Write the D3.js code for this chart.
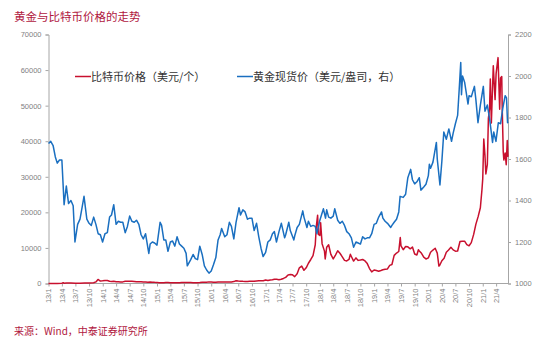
<!DOCTYPE html>
<html><head><meta charset="utf-8">
<script src="https://cdn.jsdelivr.net/npm/d3@7"></script>
<style>
body{margin:0;background:#fff;}
svg{display:block;}
</style>
</head><body>
<svg id="chart" width="550" height="356"></svg>
<script>
// ---------- DATA ----------
const titleText = "黄金与比特币价格的走势";
const sourceText = "来源：Wind，中泰证券研究所";
const legendLabels = ["比特币价格（美元/个）", "黄金现货价（美元/盎司，右）"];
const leftTicks = [0, 10000, 20000, 30000, 40000, 50000, 60000, 70000];
const rightTicks = [1000, 1200, 1400, 1600, 1800, 2000, 2200];
const xTickDates = ["2013-01-01","2013-04-01","2013-07-01","2013-10-01","2014-01-01","2014-04-01","2014-07-01","2014-10-01",
  "2015-01-01","2015-04-01","2015-07-01","2015-10-01","2016-01-01","2016-04-01","2016-07-01","2016-10-01",
  "2017-01-01","2017-04-01","2017-07-01","2017-10-01","2018-01-01","2018-04-01","2018-07-01","2018-10-01",
  "2019-01-01","2019-04-01","2019-07-01","2019-10-01","2020-01-01","2020-04-01","2020-07-01","2020-10-01",
  "2021-01-01","2021-04-01"];
const xDomain = ["2013-01-01", "2021-06-20"];

// Gold spot price, USD/oz (right axis)
const goldSeries = [
 ["2013-01-01",1675],["2013-01-16",1685],["2013-02-01",1665],["2013-02-16",1610],["2013-03-01",1580],["2013-03-16",1595],
 ["2013-04-01",1595],["2013-04-16",1380],["2013-05-01",1470],["2013-05-16",1385],["2013-06-01",1400],["2013-06-16",1375],
 ["2013-06-28",1200],["2013-07-16",1285],["2013-08-01",1310],["2013-08-16",1370],["2013-08-28",1420],["2013-09-16",1310],
 ["2013-10-01",1290],["2013-10-16",1280],["2013-11-01",1320],["2013-11-16",1285],["2013-12-01",1240],["2013-12-16",1235],
 ["2013-12-31",1200],["2014-01-16",1240],["2014-02-01",1245],["2014-02-16",1320],["2014-03-01",1330],["2014-03-16",1380],
 ["2014-04-01",1285],["2014-04-16",1300],["2014-05-01",1295],["2014-05-16",1295],["2014-06-01",1245],["2014-06-16",1275],
 ["2014-07-01",1325],["2014-07-16",1300],["2014-08-01",1295],["2014-08-16",1305],["2014-09-01",1285],["2014-09-16",1235],
 ["2014-10-01",1215],["2014-10-16",1240],["2014-11-01",1170],["2014-11-07",1145],["2014-11-16",1190],["2014-12-01",1200],
 ["2014-12-16",1195],["2015-01-01",1185],["2015-01-22",1295],["2015-02-01",1280],["2015-02-16",1210],["2015-03-01",1210],
 ["2015-03-16",1155],["2015-04-01",1200],["2015-04-16",1205],["2015-05-01",1180],["2015-05-16",1225],["2015-06-01",1190],
 ["2015-06-16",1180],["2015-07-01",1170],["2015-07-16",1145],["2015-07-24",1085],["2015-08-16",1115],["2015-09-01",1140],
 ["2015-09-16",1120],["2015-10-01",1115],["2015-10-16",1180],["2015-11-01",1140],["2015-11-16",1085],["2015-12-01",1065],
 ["2015-12-17",1050],["2016-01-01",1060],["2016-01-16",1090],["2016-02-01",1125],["2016-02-16",1210],["2016-03-01",1235],
 ["2016-03-11",1265],["2016-04-01",1225],["2016-04-16",1235],["2016-05-02",1295],["2016-05-16",1275],["2016-06-01",1215],
 ["2016-06-16",1295],["2016-07-06",1365],["2016-07-16",1330],["2016-08-01",1355],["2016-08-16",1345],["2016-09-01",1310],
 ["2016-09-16",1315],["2016-10-01",1315],["2016-10-16",1255],["2016-11-01",1290],["2016-11-16",1225],["2016-12-01",1170],
 ["2016-12-15",1130],["2017-01-01",1150],["2017-01-16",1200],["2017-02-01",1210],["2017-02-16",1240],["2017-03-01",1250],
 ["2017-03-15",1200],["2017-04-01",1250],["2017-04-17",1290],["2017-05-09",1220],["2017-05-16",1235],["2017-06-06",1295],
 ["2017-06-16",1255],["2017-07-10",1210],["2017-07-16",1230],["2017-08-01",1270],["2017-08-16",1285],["2017-09-08",1350],
 ["2017-09-16",1320],["2017-10-06",1270],["2017-10-16",1300],["2017-11-01",1275],["2017-11-16",1280],["2017-12-01",1275],
 ["2017-12-12",1240],["2018-01-01",1305],["2018-01-25",1360],["2018-02-08",1315],["2018-02-16",1355],["2018-03-01",1320],
 ["2018-03-16",1315],["2018-04-01",1325],["2018-04-11",1360],["2018-05-01",1305],["2018-05-16",1290],["2018-06-01",1300],
 ["2018-06-16",1280],["2018-07-01",1250],["2018-07-16",1240],["2018-08-01",1220],["2018-08-16",1175],["2018-09-01",1200],
 ["2018-09-16",1195],["2018-10-01",1190],["2018-10-16",1225],["2018-11-01",1215],["2018-11-16",1220],["2018-12-01",1220],
 ["2018-12-16",1240],["2019-01-01",1285],["2019-01-16",1290],["2019-02-01",1320],["2019-02-20",1345],["2019-03-01",1315],
 ["2019-03-16",1300],["2019-04-01",1290],["2019-04-23",1270],["2019-05-01",1280],["2019-05-16",1295],["2019-06-01",1310],
 ["2019-06-16",1345],["2019-06-25",1420],["2019-07-16",1415],["2019-08-01",1430],["2019-08-16",1510],["2019-09-04",1550],
 ["2019-09-16",1500],["2019-10-01",1480],["2019-10-16",1490],["2019-11-01",1510],["2019-11-12",1450],["2019-12-01",1465],
 ["2019-12-16",1478],["2020-01-01",1520],["2020-01-08",1575],["2020-01-16",1555],["2020-02-01",1585],["2020-02-24",1680],
 ["2020-03-01",1600],["2020-03-19",1475],["2020-04-01",1590],["2020-04-14",1730],["2020-05-01",1695],["2020-05-18",1745],
 ["2020-06-05",1685],["2020-06-16",1725],["2020-07-01",1770],["2020-07-16",1810],["2020-07-27",1940],["2020-08-06",2065],
 ["2020-08-11",1910],["2020-08-18",2000],["2020-09-01",1970],["2020-09-24",1865],["2020-10-01",1905],["2020-10-16",1900],
 ["2020-11-06",1950],["2020-11-16",1885],["2020-11-30",1775],["2020-12-16",1860],["2021-01-05",1950],["2021-01-16",1830],
 ["2021-02-01",1860],["2021-02-16",1795],["2021-03-08",1680],["2021-03-16",1730],["2021-03-31",1685],["2021-04-16",1775],
 ["2021-05-01",1770],["2021-05-16",1845],["2021-06-01",1905],["2021-06-10",1895],["2021-06-17",1775],["2021-06-20",1780]
];

// Bitcoin price, USD (left axis)
const btcSeries = [
 ["2013-01-01",13],["2013-02-01",20],["2013-03-01",34],["2013-04-01",100],["2013-04-10",230],["2013-04-16",80],
 ["2013-05-01",120],["2013-06-01",125],["2013-07-01",90],["2013-08-01",105],["2013-09-01",140],["2013-10-01",130],
 ["2013-11-01",210],["2013-11-16",450],["2013-11-30",1150],["2013-12-16",700],["2013-12-31",750],["2014-01-16",850],
 ["2014-02-01",830],["2014-02-16",620],["2014-03-01",560],["2014-03-16",630],["2014-04-01",480],["2014-04-16",520],
 ["2014-05-01",450],["2014-05-16",450],["2014-06-01",630],["2014-06-16",600],["2014-07-01",640],["2014-07-16",620],
 ["2014-08-01",590],["2014-08-16",500],["2014-09-01",480],["2014-09-16",460],["2014-10-01",390],["2014-10-16",390],
 ["2014-11-01",325],["2014-11-16",390],["2014-12-01",380],["2014-12-16",330],["2015-01-01",315],["2015-01-16",210],
 ["2015-02-01",225],["2015-02-16",235],["2015-03-01",260],["2015-03-16",290],["2015-04-01",245],["2015-04-16",225],
 ["2015-05-01",235],["2015-05-16",237],["2015-06-01",222],["2015-06-16",250],["2015-07-01",258],["2015-07-16",280],
 ["2015-08-01",280],["2015-08-16",258],["2015-09-01",228],["2015-09-16",230],["2015-10-01",237],["2015-10-16",262],
 ["2015-11-01",325],["2015-11-16",335],["2015-12-01",360],["2015-12-16",455],["2016-01-01",430],["2016-01-16",385],
 ["2016-02-01",370],["2016-02-16",405],["2016-03-01",435],["2016-03-16",415],["2016-04-01",416],["2016-04-16",430],
 ["2016-05-01",450],["2016-05-16",455],["2016-06-01",535],["2016-06-16",765],["2016-07-01",675],["2016-07-16",665],
 ["2016-08-01",605],["2016-08-16",580],["2016-09-01",575],["2016-09-16",607],["2016-10-01",615],["2016-10-16",640],
 ["2016-11-01",730],["2016-11-16",745],["2016-12-01",755],["2016-12-16",785],["2017-01-01",998],["2017-01-16",830],
 ["2017-02-01",985],["2017-02-16",1035],["2017-03-01",1190],["2017-03-16",1170],["2017-04-01",1080],["2017-04-16",1180],
 ["2017-05-01",1420],["2017-05-16",1730],["2017-06-01",2400],["2017-06-16",2500],["2017-07-01",2430],["2017-07-16",1930],
 ["2017-08-01",2720],["2017-08-16",4400],["2017-09-01",4890],["2017-09-16",3700],["2017-10-01",4400],["2017-10-16",5700],
 ["2017-11-01",6750],["2017-11-16",7850],["2017-12-01",10900],["2017-12-08",16000],["2017-12-17",19200],["2017-12-22",13800],
 ["2018-01-01",13500],["2018-01-06",17100],["2018-01-16",11200],["2018-02-01",9100],["2018-02-06",6900],["2018-02-16",10200],
 ["2018-03-01",10900],["2018-03-16",8200],["2018-04-01",6900],["2018-04-16",8000],["2018-05-01",9200],["2018-05-16",8500],
 ["2018-06-01",7500],["2018-06-16",6500],["2018-07-01",6350],["2018-07-16",6750],["2018-07-25",8200],["2018-08-01",7600],
 ["2018-08-16",6300],["2018-09-01",7200],["2018-09-16",6500],["2018-10-01",6600],["2018-10-16",6750],["2018-11-01",6350],
 ["2018-11-16",5600],["2018-12-01",4200],["2018-12-16",3250],["2019-01-01",3800],["2019-01-16",3650],["2019-02-01",3450],
 ["2019-02-16",3650],["2019-03-01",3850],["2019-03-16",4000],["2019-04-01",4100],["2019-04-16",5100],["2019-05-01",5350],
 ["2019-05-16",7900],["2019-06-01",8550],["2019-06-16",9000],["2019-06-26",12900],["2019-07-01",10600],["2019-07-16",9500],
 ["2019-08-01",10400],["2019-08-16",10300],["2019-09-01",9750],["2019-09-16",10250],["2019-10-01",8300],["2019-10-16",8000],
 ["2019-10-26",9500],["2019-11-01",9150],["2019-11-16",8500],["2019-12-01",7400],["2019-12-16",6900],["2020-01-01",7200],
 ["2020-01-16",8800],["2020-02-01",9400],["2020-02-16",9900],["2020-03-01",8550],["2020-03-12",4900],["2020-03-16",5000],
 ["2020-04-01",6400],["2020-04-16",7100],["2020-05-01",8800],["2020-05-16",9400],["2020-06-01",10200],["2020-06-16",9450],
 ["2020-07-01",9100],["2020-07-16",9150],["2020-08-01",11800],["2020-08-16",11900],["2020-09-01",11900],["2020-09-16",10950],
 ["2020-10-01",10600],["2020-10-16",11500],["2020-11-01",13800],["2020-11-16",16700],["2020-12-01",18800],["2020-12-16",21300],
 ["2020-12-27",26500],["2021-01-01",29400],["2021-01-08",40600],["2021-01-16",36000],["2021-01-22",30800],["2021-02-01",33500],
 ["2021-02-08",46400],["2021-02-16",49200],["2021-02-21",57500],["2021-02-28",45100],["2021-03-13",61200],["2021-03-25",51700],
 ["2021-04-01",59000],["2021-04-14",63500],["2021-04-25",49000],["2021-05-01",57800],["2021-05-09",58200],["2021-05-12",49500],
 ["2021-05-19",37000],["2021-05-23",34700],["2021-06-01",36700],["2021-06-08",33400],["2021-06-15",40200],["2021-06-20",35600]
];

// ---------- DRAW ----------
const parse = d3.timeParse("%Y-%m-%d");
const svg = d3.select("#chart");
const latin = "'Liberation Sans', Arial, sans-serif";
const cjk = "'Noto Sans CJK SC', 'Liberation Sans', sans-serif";
const axisColor = "#a6a6a6";
const tickTextColor = "#7f7f7f";
const red = "#c8102e", blue = "#1a6fc0";

const plot = {left: 48.5, right: 508, top: 34.5, bottom: 283.5};

const x = d3.scaleTime().domain(xDomain.map(parse)).range([plot.left, plot.right]);
const yL = d3.scaleLinear().domain([0, 70000]).range([plot.bottom, plot.top]);
const yR = d3.scaleLinear().domain([1000, 2200]).range([plot.bottom, plot.top]);

// Title
svg.append("text").attr("x", 14).attr("y", 21).text(titleText)
  .attr("font-family", cjk).attr("font-size", 11.5).attr("fill", "#b0173e");

// Left axis
const gL = svg.append("g").attr("transform", `translate(${plot.left},0)`)
  .call(d3.axisLeft(yL).tickValues(leftTicks).tickSize(3).tickPadding(4).tickFormat(d3.format("d")));
// Right axis
const gR = svg.append("g").attr("transform", `translate(${plot.right},0)`)
  .call(d3.axisRight(yR).tickValues(rightTicks).tickSize(3).tickPadding(4).tickFormat(d3.format("d")));
// Bottom axis
const gB = svg.append("g").attr("transform", `translate(0,${plot.bottom})`)
  .call(d3.axisBottom(x).tickValues(xTickDates.map(parse)).tickSize(3).tickPadding(3)
    .tickFormat(d => d3.timeFormat("%y")(d) + "/" + (d.getMonth() + 1)));

[gL, gR, gB].forEach(g => {
  g.select(".domain").attr("stroke", axisColor).attr("stroke-width", 1);
  g.selectAll(".tick line").attr("stroke", axisColor);
  g.selectAll(".tick text").attr("fill", tickTextColor).attr("font-family", latin).attr("font-size", 7.5);
});
gB.select(".domain").attr("d", `M${plot.left},0H${plot.right}`);
gB.selectAll(".tick text")
  .attr("transform", "rotate(-90)")
  .attr("text-anchor", "end")
  .attr("x", -5).attr("y", 0).attr("dy", "0.32em");

// Lines
const lineL = d3.line().x(d => x(parse(d[0]))).y(d => yL(d[1]));
const lineR = d3.line().x(d => x(parse(d[0]))).y(d => yR(d[1]));

svg.append("path").datum(btcSeries).attr("d", lineL)
  .attr("fill", "none").attr("stroke", red).attr("stroke-width", 1.5).attr("stroke-linejoin", "round");
svg.append("path").datum(goldSeries).attr("d", lineR)
  .attr("fill", "none").attr("stroke", blue).attr("stroke-width", 1.5).attr("stroke-linejoin", "round");

// Legend
const legend = [
  {label: legendLabels[0], color: red, x: 75},
  {label: legendLabels[1], color: blue, x: 237}
];
const lg = svg.append("g");
legend.forEach(l => {
  lg.append("line").attr("x1", l.x).attr("x2", l.x + 16).attr("y1", 76.5).attr("y2", 76.5)
    .attr("stroke", l.color).attr("stroke-width", 1.5);
  lg.append("text").attr("x", l.x + 16).attr("y", 80.5).text(l.label)
    .attr("font-family", cjk).attr("font-size", 11).attr("fill", "#333");
});

// Source
svg.append("text").attr("x", 14).attr("y", 335).text(sourceText)
  .attr("font-family", cjk).attr("font-size", 10).attr("fill", "#b0173e");
</script>
</body></html>
